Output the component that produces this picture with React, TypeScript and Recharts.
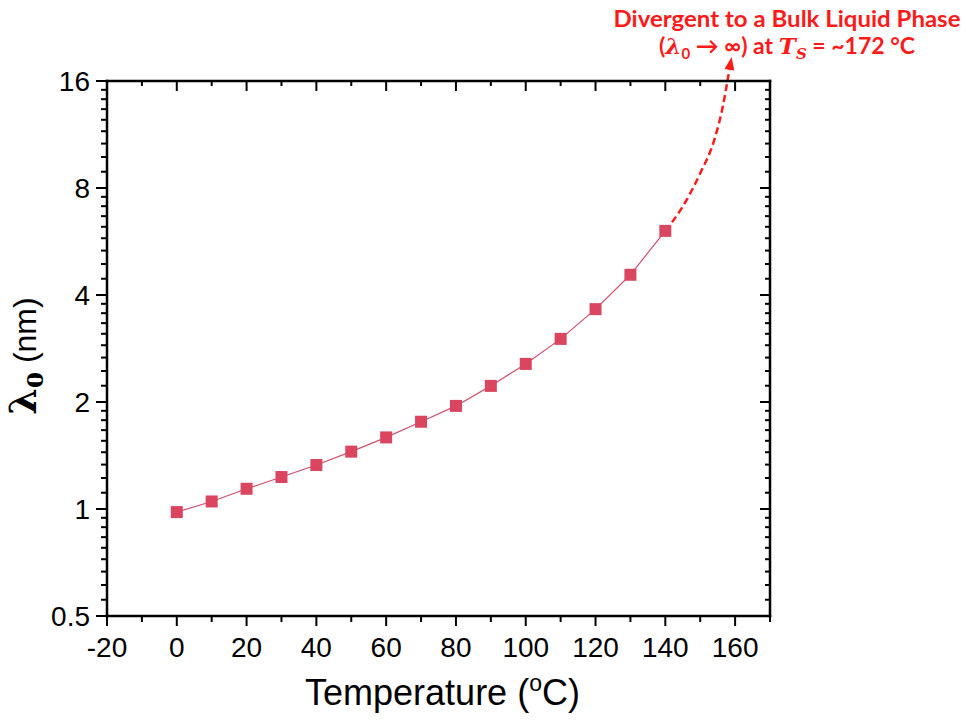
import { LineChart, Line, XAxis, YAxis, ReferenceLine, Label } from 'recharts';

// measured lambda_0 vs temperature
const temps = [0, 10, 20, 30, 40, 50, 60, 70, 80, 90, 100, 110, 120, 130, 140];
const lambda0 = [0.98, 1.05, 1.14, 1.23, 1.33, 1.45, 1.59, 1.76, 1.95, 2.22, 2.56, 3.01, 3.65, 4.56, 6.06];

// dashed extrapolation towards the divergence
const extTemps = [140, 145, 150, 154, 156.5, 157.8];
const extLambda = [6.06, 7.1, 8.8, 10.9, 13.6, 16];
const arrowStart = { t: 157.8, v: 16 };
const arrowEnd = { t: 159, v: 18.7 };

const xTicks = [-20, -10, 0, 10, 20, 30, 40, 50, 60, 70, 80, 90, 100, 110, 120, 130, 140, 150, 160, 170];
const xMajor = [-20, 0, 20, 40, 60, 80, 100, 120, 140, 160];
const yMajor = [0.5, 1, 2, 4, 8, 16];
// Origin style minor ticks: 8 per doubling, linear in value
const yTicks: number[] = [];
yMajor.forEach((b, i) => {
    yTicks.push(b);
    if (i < yMajor.length - 1) {
        for (let k = 1; k <= 8; k++) yTicks.push(b * (1 + k / 9));
    }
});

const mainData = temps.map((t, i) => ({ t, v: lambda0[i] }));
const extData = extTemps.map((t, i) => ({ t, v: extLambda[i] }));

const FONT = "'Liberation Sans', Arial, sans-serif";
const RED = '#FF1A1A';

const BottomTick = ({ x, y, payload }: any) => {
    const major = xMajor.includes(payload.value);
    return (
        <g>
            <line x1={x} x2={x} y1={y} y2={y + (major ? 10 : 6)} stroke="#000" strokeWidth={2} />
            {major && (
                <text x={x} y={y + 41} textAnchor="middle" fontFamily={FONT} fontSize={28} fill="#000">
                    {payload.value}
                </text>
            )}
        </g>
    );
};

const TopTick = ({ x, y, payload }: any) => {
    const major = xMajor.includes(payload.value);
    return <line x1={x} x2={x} y1={y} y2={y + (major ? 10 : 5)} stroke="#000" strokeWidth={2} />;
};

const LeftTick = ({ x, y, payload }: any) => {
    const major = yMajor.includes(payload.value);
    return (
        <g>
            <line x1={x} x2={x - (major ? 11 : 6)} y1={y} y2={y} stroke="#000" strokeWidth={2} />
            {major && (
                <text x={x - 17} y={y} dy="0.35em" textAnchor="end" fontFamily={FONT} fontSize={28} fill="#000">
                    {payload.value}
                </text>
            )}
        </g>
    );
};

const RightTick = ({ x, y, payload }: any) => {
    const major = yMajor.includes(payload.value);
    return <line x1={x} x2={x - (major ? 10 : 5)} y1={y} y2={y} stroke="#000" strokeWidth={2} />;
};

const SquareDot = ({ cx, cy }: any) => (
    <rect x={cx - 6} y={cy - 6} width={12} height={12} fill="#DA4560" />
);

const ArrowShape = ({ x1, y1, x2, y2 }: any) => {
    const ang = Math.atan2(y2 - y1, x2 - x1);
    const len = 13;
    const half = 5;
    const bx = x2 - len * Math.cos(ang);
    const by = y2 - len * Math.sin(ang);
    const px = -Math.sin(ang) * half;
    const py = Math.cos(ang) * half;
    return (
        <g>
            <line x1={x1} y1={y1} x2={bx} y2={by} stroke={RED} strokeWidth={2.5} strokeDasharray="7 4" />
            <polygon points={`${x2},${y2} ${bx + px},${by + py} ${bx - px},${by - py}`} fill={RED} />
        </g>
    );
};

const XTitle = ({ viewBox }: any) => (
    <text x={viewBox.x + viewBox.width / 2 + 4} y={viewBox.y + 89} textAnchor="middle" fontFamily={FONT} fontSize={36} fill="#000">
        Temperature (<tspan dy={-14} fontSize={23}>o</tspan>
        <tspan dy={14}>C)</tspan>
    </text>
);

const YTitle = () => (
    <text transform="rotate(-90 36 356)" x={36} y={356} textAnchor="middle" fill="#000">
        <tspan fontFamily="'DejaVu Serif', serif" fontWeight="bold" fontSize={38}>λ</tspan>
        <tspan fontFamily="'DejaVu Serif', serif" fontWeight="bold" fontSize={23} dy={7}>0</tspan>
        <tspan fontFamily={FONT} fontSize={32} dy={-7}> (nm)</tspan>
    </text>
);

export default function App() {
    return (
        <div style={{ position: 'absolute', left: 0, top: 0, width: 966, height: 725, background: '#fff' }}>
            <LineChart width={966} height={725} margin={{ top: 80, right: 195, bottom: 0, left: 0 }}>
                <XAxis
                    type="number"
                    dataKey="t"
                    domain={[-20, 170]}
                    allowDataOverflow
                    ticks={xTicks}
                    interval={0}
                    height={109}
                    tickSize={0}
                    tickMargin={0}
                    tickLine={false}
                    tick={BottomTick}
                    axisLine={{ stroke: '#000', strokeWidth: 2.5, strokeLinecap: 'square' }}
                >
                    <Label content={XTitle} />
                </XAxis>
                <XAxis
                    xAxisId="top"
                    orientation="top"
                    type="number"
                    dataKey="t"
                    domain={[-20, 170]}
                    allowDataOverflow
                    ticks={xTicks}
                    interval={0}
                    height={1}
                    tickSize={0}
                    tickMargin={0}
                    tickLine={false}
                    tick={TopTick}
                    axisLine={{ stroke: '#000', strokeWidth: 2.5, strokeLinecap: 'square' }}
                />
                <YAxis
                    type="number"
                    scale="log"
                    domain={[0.5, 16]}
                    allowDataOverflow
                    ticks={yTicks}
                    interval={0}
                    width={107}
                    tickSize={0}
                    tickMargin={0}
                    tickLine={false}
                    tick={LeftTick}
                    axisLine={{ stroke: '#000', strokeWidth: 2.5, strokeLinecap: 'square' }}
                >
                    <Label content={YTitle} />
                </YAxis>
                <YAxis
                    yAxisId="right"
                    orientation="right"
                    type="number"
                    scale="log"
                    domain={[0.5, 16]}
                    allowDataOverflow
                    ticks={yTicks}
                    interval={0}
                    width={1}
                    tickSize={0}
                    tickMargin={0}
                    tickLine={false}
                    tick={RightTick}
                    axisLine={{ stroke: '#000', strokeWidth: 2.5, strokeLinecap: 'square' }}
                />
                <Line
                    data={extData}
                    dataKey="v"
                    type="monotone"
                    stroke={RED}
                    strokeWidth={2.5}
                    strokeDasharray="7 4"
                    dot={false}
                    activeDot={false}
                    isAnimationActive={false}
                />
                <Line
                    data={mainData}
                    dataKey="v"
                    type="linear"
                    stroke="#D0506C"
                    strokeWidth={1.2}
                    dot={<SquareDot />}
                    activeDot={false}
                    isAnimationActive={false}
                />
                <ReferenceLine
                    segment={[{ x: arrowStart.t, y: arrowStart.v }, { x: arrowEnd.t, y: arrowEnd.v }]}
                    ifOverflow="visible"
                    shape={ArrowShape}
                />
                <text textAnchor="middle" fill={RED} fontFamily="Lato, 'Noto Sans', sans-serif" fontWeight="bold">
                    <tspan x={787} y={27} fontSize={23} textLength={347} lengthAdjust="spacingAndGlyphs">
                        Divergent to a Bulk Liquid Phase
                    </tspan>
                    <tspan x={787} y={54} fontSize={23}>
                        (<tspan fontFamily="'DejaVu Serif', serif" fontStyle="italic">λ</tspan>
                        <tspan fontSize={15} dy={5}>0</tspan>
                        <tspan dy={-5}> → ∞) at </tspan>
                        <tspan fontFamily="'DejaVu Serif', serif" fontStyle="italic">T</tspan>
                        <tspan fontFamily="'DejaVu Serif', serif" fontStyle="italic" fontSize={15} dy={5}>S</tspan>
                        <tspan dy={-5}> = ~172 °C</tspan>
                    </tspan>
                </text>
            </LineChart>
        </div>
    );
}
